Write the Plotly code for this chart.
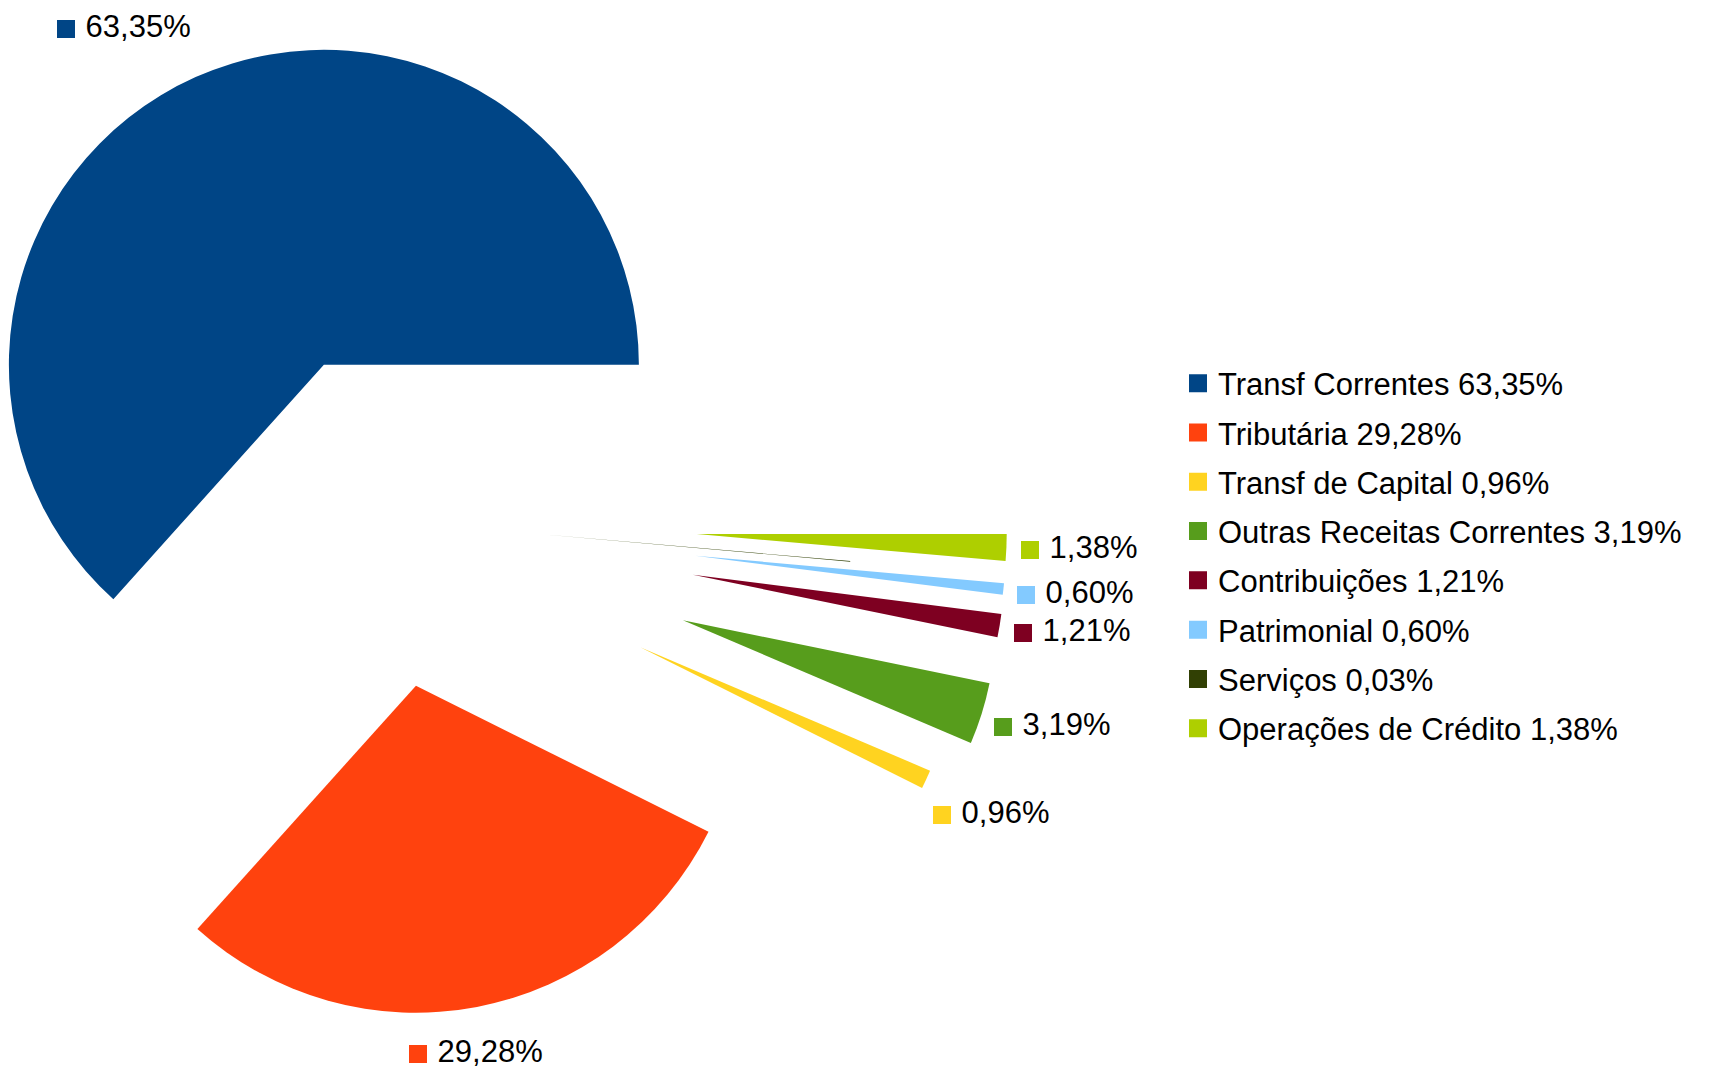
import math
import plotly.graph_objects as go

# ---- data ----
categories = ["Transf Correntes", "Tributária", "Transf de Capital",
              "Outras Receitas Correntes", "Contribuições", "Patrimonial",
              "Serviços", "Operações de Crédito"]
values = [63.35, 29.28, 0.96, 3.19, 1.21, 0.60, 0.03, 1.38]

# ---- styles ----
colors = ["#004586", "#ff420e", "#ffd320", "#579d1c",
          "#7e0021", "#83caff", "#314004", "#aecf00"]
pulls = [0.5, 0.5, 0.9, 1.0, 1.0, 1.0, 0.5, 1.0]      # explode factor per slice
draw_r = [315, 327, 315, 313, 311, 310, 310, 310]      # drawn radius per slice (px)
show_label = [True, True, True, True, True, True, False, True]
# page-pixel centre of the colour key of each data label
label_key = [(66, 29), (418, 1054), (942, 815), (1003, 727),
             (1023, 633), (1026, 595), None, (1030, 550)]

PAGE_OFF = 8                     # browser body margin
W, H = 1711 - PAGE_OFF, 1070 - PAGE_OFF
CX, CY = 387.0, 519.4            # common pie centre (page px)
RX, RY = 310.0, 338.5            # explode radii (px)
FONT = "Liberation Sans, Arial, sans-serif"
FS = 31


def pct(v):
    return f"{v:.2f}".replace(".", ",") + "%"


total = sum(values)
fig = go.Figure()

# first slice begins at 3 o'clock and slices follow counter-clockwise
rot = 90 - 360.0 * values[0] / total

cum = 0.0
for i, v in enumerate(values):
    a0 = 360.0 * cum / total
    a1 = 360.0 * (cum + v) / total
    cum += v
    b = math.radians((a0 + a1) / 2.0)
    ax = CX + pulls[i] * RX * math.cos(b) - PAGE_OFF
    ay = CY - pulls[i] * RY * math.sin(b) - PAGE_OFF
    r = draw_r[i]
    dom_x = [max(0.0, (ax - r) / W), min(1.0, (ax + r) / W)]
    dom_y = [max(0.0, (H - ay - r) / H), min(1.0, (H - ay + r) / H)]
    mcolors = [colors[j] if j == i else "rgba(0,0,0,0)" for j in range(len(values))]
    fig.add_trace(go.Pie(
        labels=categories, values=values, sort=False,
        direction="counterclockwise", rotation=rot,
        marker=dict(colors=mcolors, line=dict(width=0)),
        textinfo="none", showlegend=False,
        hoverinfo="label+percent",
        domain=dict(x=dom_x, y=dom_y),
    ))

# legend entries
for i, (cat, v) in enumerate(zip(categories, values)):
    fig.add_trace(go.Scatter(
        x=[None], y=[None], mode="markers",
        marker=dict(symbol="square", size=16, color=colors[i],
                    line=dict(color=colors[i], width=2)),
        name=f"{cat} {pct(v)}", legendgroup=f"g{i}", showlegend=True,
        hoverinfo="skip",
    ))

# data labels with colour key (hidden pixel axes)
idx = [i for i in range(len(values)) if show_label[i]]
fig.add_trace(go.Scatter(
    x=[label_key[i][0] - PAGE_OFF for i in idx],
    y=[label_key[i][1] - PAGE_OFF for i in idx],
    mode="markers+text",
    marker=dict(symbol="square", size=16, color=[colors[i] for i in idx],
                line=dict(color=[colors[i] for i in idx], width=2)),
    text=["\u00a0" + pct(values[i]) for i in idx],
    textposition="middle right",
    textfont=dict(family=FONT, size=FS, color="#000000"),
    showlegend=False, hoverinfo="skip", cliponaxis=False,
))

lx = (1178 - PAGE_OFF) / W
ly = 1 - (556 - PAGE_OFF) / H
fig.update_layout(
    width=W, height=H,
    margin=dict(l=0, r=0, t=0, b=0),
    paper_bgcolor="white", plot_bgcolor="rgba(0,0,0,0)",
    xaxis=dict(visible=False, range=[0, W], fixedrange=True),
    yaxis=dict(visible=False, range=[H, 0], fixedrange=True),
    showlegend=True,
    legend=dict(
        x=lx, xanchor="left", y=ly, yanchor="middle",
        font=dict(family=FONT, size=FS, color="#000000"),
        tracegroupgap=6, bgcolor="rgba(0,0,0,0)", borderwidth=0,
        itemsizing="trace",
    ),
    font=dict(family=FONT),
)

fig.write_html("out.html")
